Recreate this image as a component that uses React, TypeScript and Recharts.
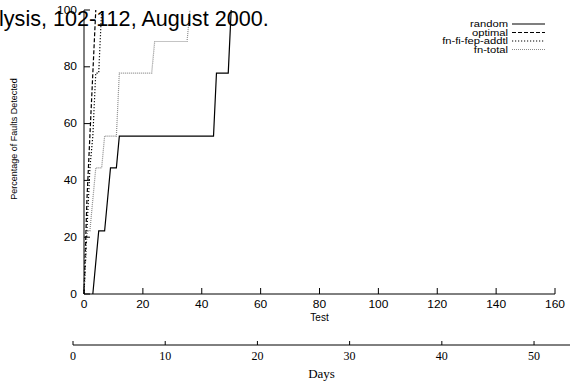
import { LineChart, Line, XAxis, YAxis } from "recharts"

// fault detection curves, x = test number, y = % of faults detected
const randomTests = [3, 5, 7, 9, 11, 12, 44, 45, 49, 50]
const randomPct = [0, 22.2, 22.2, 44.4, 44.4, 55.6, 55.6, 77.8, 77.8, 100]

const optimalTests = [0, 1, 2, 3, 4]
const optimalPct = [0, 33.3, 55.6, 77.8, 100]

const addtlTests = [0, 1, 2, 3, 4, 5, 6]
const addtlPct = [0, 22.2, 44.4, 55.6, 77.8, 77.8, 100]

const totalTests = [0, 1, 2, 4, 6, 7, 11, 12, 23, 24, 35, 36]
const totalPct = [0, 22.2, 22.2, 44.4, 44.4, 55.6, 55.6, 77.8, 77.8, 88.9, 88.9, 100]

const testTicks = [0, 20, 40, 60, 80, 100, 120, 140, 160]
const pctTicks = [0, 20, 40, 60, 80, 100]
const dayTicks = [0, 10, 20, 30, 40, 50]

const zip = (xs: number[], ys: number[]) => xs.map((x, i) => ({ x, y: ys[i] }))

const series = [
    { name: "random", data: zip(randomTests, randomPct), stroke: "#000", dash: undefined as string | undefined },
    { name: "optimal", data: zip(optimalTests, optimalPct), stroke: "#000", dash: "4 2" },
    { name: "fn-fi-fep-addtl", data: zip(addtlTests, addtlPct), stroke: "#000", dash: "1.2 1.8" },
    { name: "fn-total", data: zip(totalTests, totalPct), stroke: "#8a8a8a", dash: "1 1" },
]

const sans = "'Liberation Sans', Arial, sans-serif"
const serif = "'Liberation Serif', 'Times New Roman', serif"

const BottomTick = (props: any) => (
    <g transform={`translate(${props.x},${props.y})`}>
        <text transform="scale(1.2,1)" textAnchor="middle" dy="0.71em" fontSize={10} fontFamily={sans} fill="#000">
            {props.payload.value}
        </text>
    </g>
)

const LeftTick = (props: any) => (
    <g transform={`translate(${props.x},${props.y})`}>
        <text transform="scale(1.2,1)" textAnchor="end" dy="0.355em" fontSize={10} fontFamily={sans} fill="#000">
            {props.payload.value}
        </text>
    </g>
)

// gnuplot style key, top right inside the frame
const PlotLegend = () => (
    <svg width={570} height={60} style={{ position: "absolute", left: 0, top: 0, pointerEvents: "none" }}>
        {series.map((s, i) => (
            <g key={s.name}>
                <text transform={`translate(508,${27 + i * 8.5}) scale(1.3,1)`} textAnchor="end" fontSize={8.6} fontFamily={sans} fill="#000">
                    {s.name}
                </text>
                <line x1={512} x2={545} y1={24 + i * 8.5} y2={24 + i * 8.5} stroke={s.stroke} strokeDasharray={s.dash} strokeWidth={1.2} />
            </g>
        ))}
    </svg>
)

export default function App() {
    return (
        <div style={{ position: "absolute", left: 0, top: 0, width: 570, height: 383, background: "#fff", overflow: "hidden" }}>
            <LineChart width={570} height={330} margin={{ top: 10, right: 15, left: 0, bottom: 0 }}>
                <XAxis xAxisId="b" dataKey="x" type="number" domain={[0, 160]} ticks={testTicks} allowDuplicatedCategory={false}
                    height={36} stroke="#000" tickSize={-6} tickMargin={13} tick={<BottomTick />}
                    label={{ value: "Test", position: "insideBottom", offset: 9, fontSize: 10, fontFamily: sans, fill: "#000" }} />
                <XAxis xAxisId="t" orientation="top" dataKey="x" type="number" domain={[0, 160]} ticks={testTicks}
                    height={0} stroke="#000" tickSize={-6} tickFormatter={() => ""} />
                <YAxis yAxisId="l" type="number" domain={[0, 100]} ticks={pctTicks} width={84} stroke="#000"
                    tickSize={-6} tickMargin={13} tick={<LeftTick />}
                    label={{ value: "Percentage of Faults Detected", angle: -90, position: "insideLeft", offset: 14, dy: -13, fontSize: 9, fontFamily: sans, fill: "#000", style: { textAnchor: "middle" } }} />
                <YAxis yAxisId="r" orientation="right" type="number" domain={[0, 100]} ticks={pctTicks} width={0}
                    stroke="#000" tickSize={-6} tickFormatter={() => ""} />
                {series.map((s) => (
                    <Line key={s.name} xAxisId="b" yAxisId="l" data={s.data} dataKey="y" name={s.name} type="linear"
                        stroke={s.stroke} strokeWidth={1.2} strokeDasharray={s.dash} dot={false} isAnimationActive={false} />
                ))}
            </LineChart>
            <PlotLegend />
            <div style={{ position: "absolute", left: 0, top: 330 }}>
                <LineChart width={570} height={53} margin={{ top: 0, right: 0, left: 73, bottom: 0 }} data={[{ d: 0, v: 0 }, { d: 53.9, v: 0 }]}>
                    <XAxis dataKey="d" type="number" domain={[0, 53.9]} ticks={dayTicks} height={38} stroke="#000"
                        tickSize={-4} tickMargin={10} tick={{ fontSize: 12, fontFamily: serif, fill: "#000" }}
                        label={{ value: "Days", position: "insideBottom", offset: 5, fontSize: 13, fontFamily: serif, fill: "#000" }} />
                    <YAxis hide domain={[0, 1]} />
                    <Line dataKey="v" stroke="none" dot={false} isAnimationActive={false} />
                </LineChart>
            </div>
            <svg width={570} height={40} style={{ position: "absolute", left: 0, top: 0, pointerEvents: "none" }}>
                <text x={-1} y={26} fontSize={21.6} fontFamily={sans} fill="#000">lysis, 102-112, August 2000.</text>
            </svg>
        </div>
    )
}
